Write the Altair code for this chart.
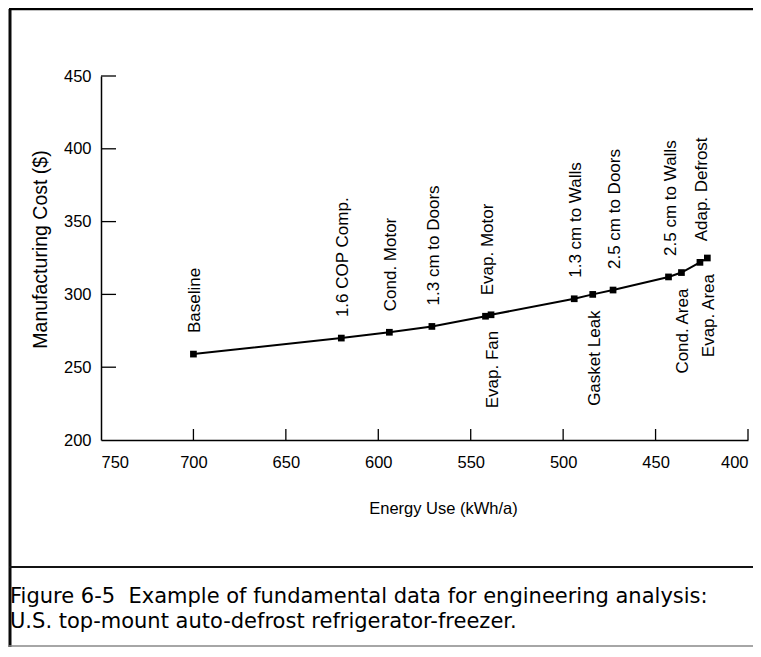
import altair as alt
import pandas as pd

# ---- data ----
energy = [700, 620, 594, 571, 542, 539, 494, 484, 473, 443, 436, 426, 422]
cost = [259, 270, 274, 278, 285, 286, 297, 300, 303, 312, 315, 322, 325]
labels = ["Baseline", "1.6 COP Comp.", "Cond. Motor", "1.3 cm to Doors",
          "Evap. Motor", "Evap. Fan", "1.3 cm to Walls", "Gasket Leak",
          "2.5 cm to Doors", "2.5 cm to Walls", "Cond. Area",
          "Adap. Defrost", "Evap. Area"]
sides = ["above", "above", "above", "above", "above", "below", "above",
         "below", "above", "above", "below", "above", "below"]
x_ticks = [750, 700, 650, 600, 550, 500, 450, 400]
y_ticks = [200, 250, 300, 350, 400, 450]
caption1 = "Figure 6-5\u00a0 Example of fundamental data for engineering analysis:"
caption2 = "U.S. top-mount auto-defrost refrigerator-freezer."

df = pd.DataFrame({"energy": energy, "cost": cost, "label": labels, "side": sides})
xt_df = pd.DataFrame({"energy": x_ticks[1:]})
yt_df = pd.DataFrame({"cost": y_ticks[1:]})

W, H = 647, 364
FONT = "Liberation Sans"

xscale = alt.Scale(domain=[400, 750], reverse=True, nice=False, zero=False)
yscale = alt.Scale(domain=[200, 450], nice=False, zero=False)

xaxis = alt.Axis(
    values=x_ticks, format="d", title="Energy Use (kWh/a)", ticks=False,
    labelPadding=14, grid=False, domainColor="black", domainWidth=1.5,
    labelFontSize=16.5, titleFontSize=16.5, titleX=342, titleY=68,
    titleBaseline="middle", titleAlign="center")
yaxis = alt.Axis(
    values=y_ticks, format="d", title="Manufacturing Cost ($)", ticks=False,
    labelPadding=10, grid=False, domainColor="black", domainWidth=1.5,
    labelFontSize=16.5, titleFontSize=19.5, titleX=-61, titleY=173,
    titleAngle=270, titleBaseline="middle", titleAlign="center")
x_enc = alt.X("energy:Q", scale=xscale, axis=xaxis)
y_enc = alt.Y("cost:Q", scale=yscale, axis=yaxis)

base = alt.Chart(df)
line = base.mark_line(color="black", strokeWidth=2).encode(x=x_enc, y=y_enc)
pts = base.mark_point(shape="square", filled=True, size=45, color="black",
                      opacity=1).encode(x=x_enc, y=y_enc)
above = base.transform_filter(alt.datum.side == "above").mark_text(
    angle=270, align="left", baseline="middle", dx=21, dy=2, fontSize=17,
    font=FONT, color="black").encode(x=x_enc, y=y_enc, text="label:N")
below = base.transform_filter(alt.datum.side == "below").mark_text(
    angle=270, align="right", baseline="middle", dx=-16, dy=2, fontSize=17,
    font=FONT, color="black").encode(x=x_enc, y=y_enc, text="label:N")

xt = alt.Chart(xt_df).mark_rule(color="black", strokeWidth=1.3).encode(
    x=x_enc, y=alt.value(H), y2=alt.value(H - 11))
yt = alt.Chart(yt_df).mark_rule(color="black", strokeWidth=1.3).encode(
    y=y_enc, x=alt.value(0), x2=alt.value(15))


def seg(x1, y1, x2, y2, color, width):
    return alt.Chart(alt.Data(values=[{}])).mark_rule(
        color=color, strokeWidth=width).encode(
        x=alt.value(x1), y=alt.value(y1), x2=alt.value(x2), y2=alt.value(y2))


frame_left = seg(-91, -67, -91, 571, "#0a0a0a", 3)
frame_top = seg(-92, -67, 652, -67, "#000000", 2.5)
frame_sep = seg(-92, 491, 652, 491, "#141414", 2)
frame_bot = seg(-92, 570, 652, 570, "#888888", 1.5)

one = alt.Data(values=[{}])
cap1 = alt.Chart(one).mark_text(align="left", baseline="middle", font="DejaVu Sans",
                                fontSize=21, color="black").encode(
    x=alt.value(-91), y=alt.value(521), text=alt.value(caption1))
cap2 = alt.Chart(one).mark_text(align="left", baseline="middle", font="DejaVu Sans",
                                fontSize=21, color="black").encode(
    x=alt.value(-91), y=alt.value(546), text=alt.value(caption2))

chart = alt.layer(
    line, pts, above, below, xt, yt,
    frame_left, frame_top, frame_sep, frame_bot, cap1, cap2
).properties(
    width=W, height=H,
    autosize=alt.AutoSizeParams(type="none"),
    padding={"left": 93, "top": 68, "right": 5, "bottom": 207},
).configure_view(stroke=None).configure_axis(
    labelFont=FONT, titleFont=FONT, labelColor="black", titleColor="black",
    titleFontWeight="normal"
)

chart.save("out.html", embed_options={"renderer": "svg", "actions": False})
